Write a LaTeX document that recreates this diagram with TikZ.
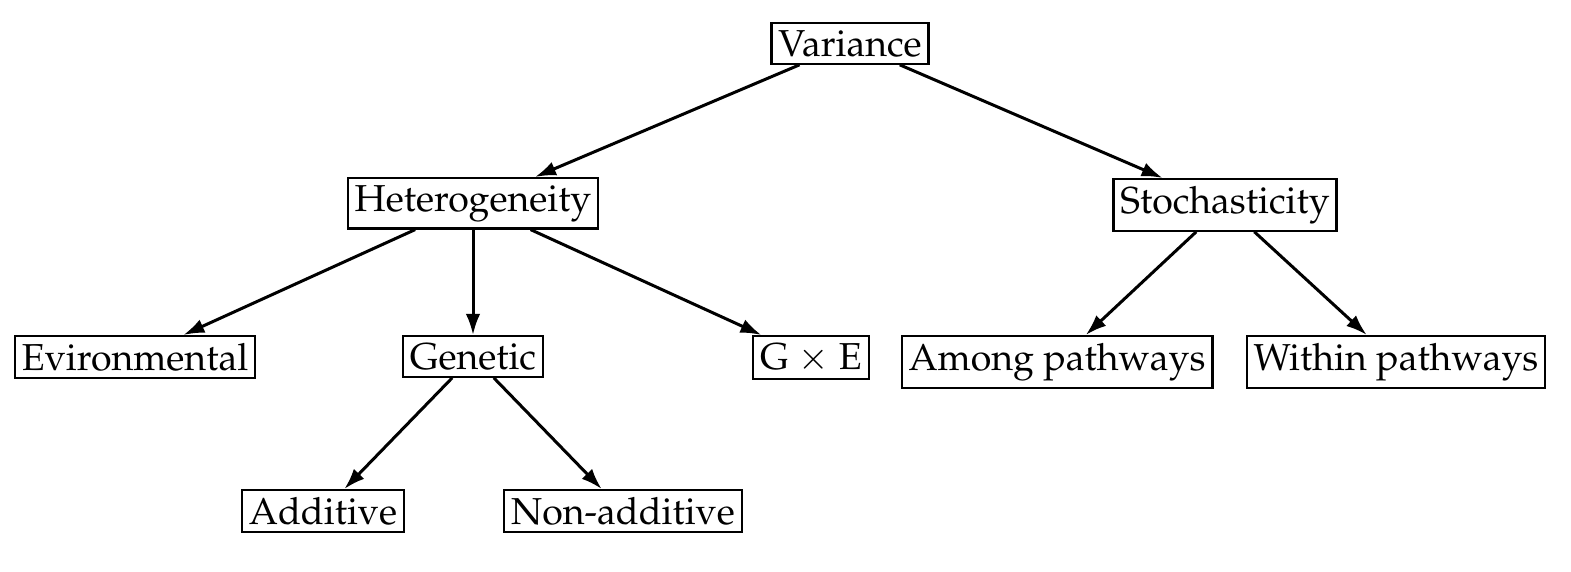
\documentclass[tikz,border=0pt]{standalone}
\usepackage[T1]{fontenc}
\usepackage{mathpazo}
\usetikzlibrary{arrows.meta}
\tikzset{
  box/.style={draw, line width=0.75pt, inner xsep=2.3pt, inner ysep=2.3pt, anchor=north, font=\fontsize{12.5}{15}\selectfont},
  conn/.style={line width=1pt, -{Latex[length=7pt,width=4.8pt]}}
}
\begin{document}
\begin{tikzpicture}[x=0.3333pt,y=-0.3333pt]
\useasboundingbox (0,0) rectangle (1571,572);
\node[box] (var) at (850,22) {Variance};
\node[box] (het) at (473,177) {Heterogeneity};
\node[box] (sto) at (1225,178) {Stochasticity};
\node[box] (env) at (135,335) {Evironmental};
\node[box] (gen) at (473,335) {Genetic};
\node[box] (gxe) at (811,335) {G $\times$ E};
\node[box] (amo) at (1057,335) {Among pathways};
\node[box] (wit) at (1396,335) {Within pathways};
\node[box] (add) at (323,489) {Additive};
\node[box] (non) at (623,489) {Non-additive};
\draw[conn] (var) -- (het);
\draw[conn] (var) -- (sto);
\draw[conn] (het) -- (env);
\draw[conn] (het) -- (gen);
\draw[conn] (het) -- (gxe);
\draw[conn] (sto) -- (amo);
\draw[conn] (sto) -- (wit);
\draw[conn] (gen) -- (add);
\draw[conn] (gen) -- (non);
\end{tikzpicture}
\end{document}
